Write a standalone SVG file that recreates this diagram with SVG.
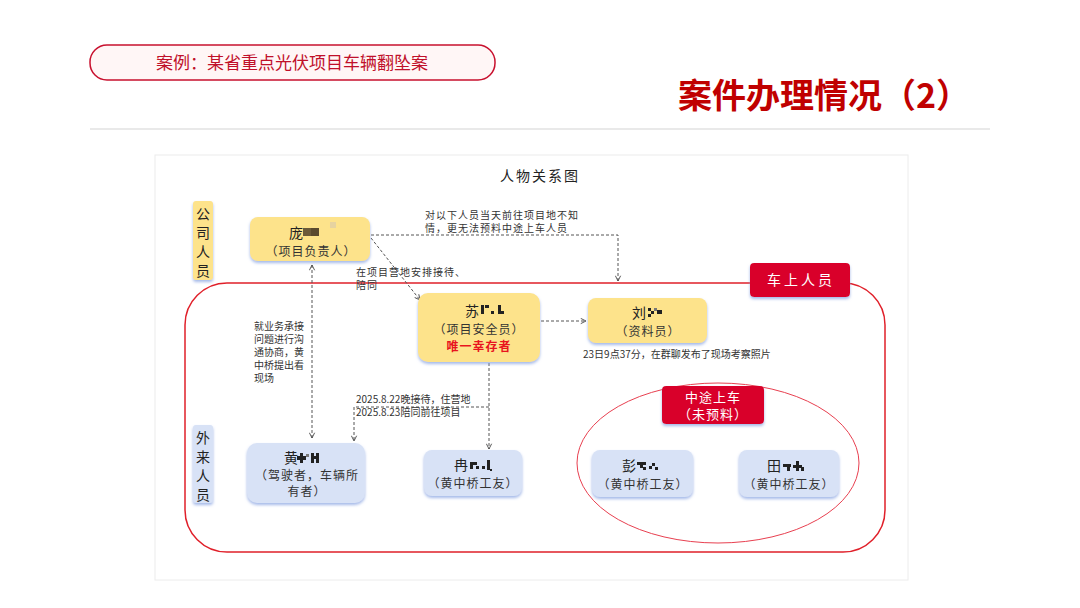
<svg xmlns="http://www.w3.org/2000/svg" width="1080" height="608" viewBox="0 0 1080 608">
<defs>
<style>
.cjk{font-family:"Noto Sans CJK SC","Noto Sans",sans-serif}
.nt{font-family:"Noto Sans CJK SC",sans-serif;font-size:14px;fill:#222;text-anchor:middle}
.st{font-family:"Noto Sans CJK SC",sans-serif;font-size:12px;fill:#333;text-anchor:middle;letter-spacing:1px}
.lb{font-family:"Noto Sans CJK SC","Liberation Serif",serif;font-size:10px;fill:#333}
.ls{letter-spacing:1px}
.yel{fill:#fde38b}
.blu{fill:#d8e2f6}
.conn{fill:none;stroke:#555;stroke-width:1;stroke-dasharray:3,2}
.mos{fill:#222}
.mos2{fill:#777}
</style>
<filter id="sh" x="-20%" y="-20%" width="140%" height="150%">
<feDropShadow dx="0" dy="2" stdDeviation="1.5" flood-color="#7f9de0" flood-opacity="0.7"/>
</filter>
<marker id="ar" viewBox="0 0 8 8" refX="7" refY="4" markerWidth="7" markerHeight="7" orient="auto-start-reverse">
<path d="M1,1 L7,4 L1,7" fill="none" stroke="#444" stroke-width="1"/>
</marker>
</defs>
<rect x="0" y="0" width="1080" height="608" fill="#fff"/>
<g id="header">
<rect x="90" y="45" width="405" height="35" rx="17" fill="#fff6f6" stroke="#c8102e" stroke-width="1.5"/>
<text x="292" y="69" class="cjk" font-size="17" fill="#c0102a" text-anchor="middle">案例：某省重点光伏项目车辆翻坠案</text>
<text x="970" y="108" class="cjk" font-size="34" font-weight="bold" fill="#c00000" text-anchor="end">案件办理情况（2）</text>
<line x1="90" y1="129" x2="990" y2="129" stroke="#e2e2e2" stroke-width="1.5"/>
</g>
<g id="panel">
<rect x="155" y="155" width="753" height="425" fill="#fff" stroke="#ececec" stroke-width="1"/>
<text x="540" y="181" class="cjk" font-size="14" fill="#222" text-anchor="middle" letter-spacing="2">人物关系图</text>
</g>
<g id="group-onboard">
<rect x="185" y="283" width="700" height="269" rx="42" fill="none" stroke="#e0202a" stroke-width="1.5"/>
<ellipse cx="718" cy="463" rx="141" ry="80" fill="none" stroke="#e84050" stroke-width="1"/>
</g>
<g id="connectors">
<polyline class="conn" points="371,235 618,235 618,281" marker-end="url(#ar)"/>
<line class="conn" x1="371" y1="238" x2="420" y2="300" marker-end="url(#ar)"/>
<line class="conn" x1="312" y1="265" x2="312" y2="438" marker-start="url(#ar)" marker-end="url(#ar)"/>
<line class="conn" x1="541" y1="321" x2="586" y2="321" marker-end="url(#ar)"/>
<line class="conn" x1="489" y1="363" x2="489" y2="449" marker-end="url(#ar)"/>
<polyline class="conn" points="489,407 354,407 354,441" marker-end="url(#ar)"/>
<text class="lb ls" x="425" y="219">对以下人员当天前往项目地不知</text>
<text class="lb ls" x="425" y="232">情，更无法预料中途上车人员</text>
<text class="lb ls" x="356" y="276">在项目营地安排接待、</text>
<text class="lb ls" x="356" y="289">陪同</text>
<text class="lb" x="254" y="330">就业务承接</text>
<text class="lb" x="254" y="343">问题进行沟</text>
<text class="lb" x="254" y="356">通协商，黄</text>
<text class="lb" x="254" y="369">中桥提出看</text>
<text class="lb" x="254" y="382">现场</text>
<text class="lb" x="356" y="403">2025.8.22晚接待，住营地</text>
<text class="lb" x="356" y="416">2025.8.23陪同前往项目</text>
<text class="lb" x="583" y="358">23日9点37分，在群聊发布了现场考察照片</text>
</g>
<g id="label-company">
<rect x="193" y="201" width="20" height="79" rx="3" class="yel" filter="url(#sh)"/>
<text class="nt" font-size="12" x="203" y="219">公</text>
<text class="nt" font-size="12" x="203" y="238">司</text>
<text class="nt" font-size="12" x="203" y="257">人</text>
<text class="nt" font-size="12" x="203" y="276">员</text>
</g>
<g id="label-outside">
<rect x="193" y="425" width="20" height="78" rx="3" class="blu" filter="url(#sh)"/>
<text class="nt" font-size="12" x="203" y="443">外</text>
<text class="nt" font-size="12" x="203" y="462">来</text>
<text class="nt" font-size="12" x="203" y="481">人</text>
<text class="nt" font-size="12" x="203" y="500">员</text>
</g>
<g id="label-onboard">
<rect x="750" y="263" width="100" height="34" rx="4" fill="#d9002b" filter="url(#sh)"/>
<text x="801" y="285" class="cjk" font-size="14" fill="#fff" text-anchor="middle" letter-spacing="3">车上人员</text>
</g>
<g id="label-midway">
<rect x="662" y="386" width="102" height="38" rx="4" fill="#d9002b" filter="url(#sh)"/>
<text x="713" y="402" class="cjk" font-size="13" fill="#fff" text-anchor="middle" letter-spacing="1">中途上车</text>
<text x="713" y="419" class="cjk" font-size="13" fill="#fff" text-anchor="middle" letter-spacing="1">（未预料）</text>
</g>
<g id="node-pang">
<rect x="250" y="217" width="120" height="44" rx="8" class="yel" filter="url(#sh)"/>
<text class="nt" x="296" y="238">庞</text>
<rect x="303" y="228" width="8" height="8" fill="#6b5a3a"/>
<rect x="311" y="228" width="8" height="8" fill="#5a4a2e"/>
<rect x="330" y="222" width="6" height="6" fill="#e6d3a0"/>
<text class="st" x="311" y="256">（项目负责人）</text>
</g>
<g id="node-su">
<rect x="418" y="293" width="122" height="69" rx="10" class="yel" filter="url(#sh)"/>
<text class="nt" x="472" y="316">苏</text>
<rect x="481" y="305" width="3" height="9" class="mos"/>
<rect x="485" y="305" width="4" height="3" class="mos"/>
<rect x="491" y="311" width="3" height="3" class="mos"/>
<rect x="498" y="305" width="3" height="9" class="mos"/>
<rect x="498" y="311" width="6" height="3" class="mos"/>
<text class="st" x="479" y="334">（项目安全员）</text>
<text x="479" y="351" class="cjk" font-size="12" font-weight="bold" fill="#e8141e" text-anchor="middle" letter-spacing="1">唯一幸存者</text>
</g>
<g id="node-liu">
<rect x="588" y="298" width="119" height="45" rx="8" class="yel" filter="url(#sh)"/>
<text class="nt" x="639" y="318">刘</text>
<rect x="648" y="308" width="3" height="3" class="mos"/>
<rect x="651" y="311" width="3" height="3" class="mos"/>
<rect x="648" y="314" width="3" height="3" class="mos"/>
<rect x="654" y="308" width="3" height="3" class="mos2"/>
<rect x="657" y="310" width="5" height="4" class="mos"/>
<text class="st" x="648" y="336">（资料员）</text>
</g>
<g id="node-huang">
<rect x="247" y="443" width="118" height="60" rx="10" class="blu" filter="url(#sh)"/>
<text class="nt" x="291" y="463">黄</text>
<rect x="300" y="453" width="3" height="10" class="mos"/>
<rect x="297" y="456" width="9" height="4" class="mos"/>
<rect x="306" y="454" width="3" height="3" class="mos2"/>
<rect x="311" y="453" width="3" height="10" class="mos"/>
<rect x="316" y="453" width="3" height="10" class="mos"/>
<rect x="311" y="456" width="8" height="3" class="mos"/>
<text class="st" x="307" y="480">（驾驶者，车辆所</text>
<text class="st" x="307" y="496">有者）</text>
</g>
<g id="node-ran">
<rect x="424" y="450" width="98" height="46" rx="8" class="blu" filter="url(#sh)"/>
<text class="nt" x="461" y="470">冉</text>
<rect x="470" y="462" width="7" height="3" class="mos"/>
<rect x="470" y="465" width="3" height="4" class="mos"/>
<rect x="476" y="466" width="3" height="3" class="mos"/>
<rect x="482" y="466" width="3" height="3" class="mos"/>
<rect x="487" y="460" width="3" height="10" class="mos"/>
<rect x="490" y="469" width="2" height="2" class="mos"/>
<text class="st" x="473" y="488">（黄中桥工友）</text>
</g>
<g id="node-peng">
<rect x="592" y="450" width="101" height="47" rx="8" class="blu" filter="url(#sh)"/>
<text class="nt" x="629" y="471">彭</text>
<rect x="637" y="462" width="9" height="3" class="mos"/>
<rect x="640" y="465" width="3" height="3" class="mos"/>
<rect x="643" y="467" width="3" height="3" class="mos"/>
<rect x="652" y="463" width="3" height="3" class="mos"/>
<rect x="649" y="466" width="3" height="3" class="mos"/>
<rect x="655" y="467" width="3" height="3" class="mos"/>
<text class="st" x="643" y="489">（黄中桥工友）</text>
</g>
<g id="node-tian">
<rect x="739" y="450" width="100" height="47" rx="8" class="blu" filter="url(#sh)"/>
<text class="nt" x="774" y="471">田</text>
<rect x="783" y="464" width="8" height="3" class="mos"/>
<rect x="787" y="464" width="3" height="7" class="mos"/>
<rect x="796" y="461" width="3" height="10" class="mos"/>
<rect x="793" y="465" width="9" height="3" class="mos"/>
<rect x="801" y="467" width="3" height="4" class="mos"/>
<text class="st" x="789" y="489">（黄中桥工友）</text>
</g>
</svg>
